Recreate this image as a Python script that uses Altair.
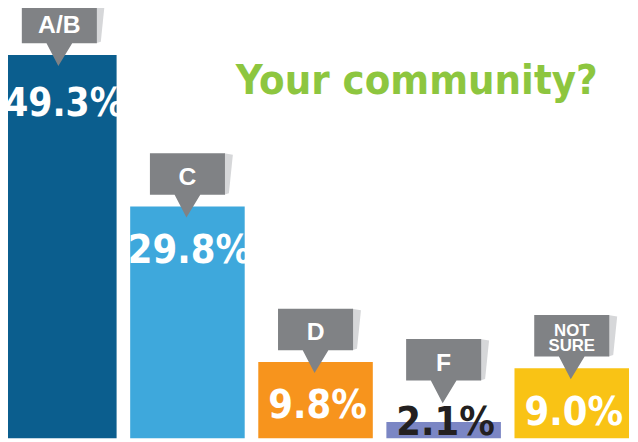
import altair as alt
import pandas as pd

categories = ["A/B", "C", "D", "F", "NOT SURE"]
values = [49.3, 29.8, 9.8, 2.1, 9.0]
labels = ["49.3%", "29.8%", "9.8%", "2.1%", "9.0%"]
colors = ["#0b5e8e", "#3ea8dc", "#f7941d", "#7b86c4", "#f9c315"]
title_text = ["Your community?"]

df = pd.DataFrame({"cat": categories, "value": values, "label": labels})

x = alt.X("cat:N", sort=categories,
          scale=alt.Scale(range=[-6, 629], paddingInner=0.106, paddingOuter=0),
          axis=None)
y = alt.Y("value:Q", scale=alt.Scale(domain=[0, 55]), axis=None)

base = alt.Chart(df).encode(x=x, y=y)

bars = base.mark_bar().encode(
    color=alt.Color("cat:N", scale=alt.Scale(domain=categories, range=colors), legend=None)
)

NUM_FONT = "DejaVu Sans Condensed, sans-serif"
LAB_FONT = "Liberation Sans, Arial, sans-serif"

big = base.transform_filter("datum.value >= 40").mark_text(
    font=NUM_FONT, fontWeight="bold", fontSize=39, color="white",
    baseline="alphabetic", dy=62, dx=5, align="center"
).encode(text="label:N")

mid = base.transform_filter("datum.value >= 5 && datum.value < 40").mark_text(
    font=NUM_FONT, fontWeight="bold", fontSize=40, color="white",
    baseline="alphabetic", dy=57, dx=2, align="center"
).encode(text="label:N")

small = alt.Chart(df).transform_filter("datum.value < 5").transform_calculate(
    zero="0"
).mark_text(
    font=NUM_FONT, fontWeight="bold", fontSize=40, color="#231f20",
    baseline="alphabetic", dy=-3, dx=2, align="center"
).encode(x=x, y=alt.Y("zero:Q", axis=None), text="label:N")

BOX = "M -0.76 -1.08 L 0.76 -1.08 L 0.76 -0.24 L 0.26 -0.24 L -0.02 0.22 L -0.26 -0.24 L -0.76 -0.24 Z"
SHADOW = "M 0.70 -1.08 L 0.88 -1.05 L 0.80 -0.27 L 0.70 -0.24 Z"

sh_in = base.transform_filter("datum.value >= 5").mark_point(
    shape=SHADOW, size=10000, filled=True, color="#d6d7d9", opacity=1,
    strokeWidth=0, xOffset=2
)
bx_in = base.transform_filter("datum.value >= 5").mark_point(
    shape=BOX, size=10000, filled=True, color="#808285", opacity=1, strokeWidth=0
)
sh_out = base.transform_filter("datum.value < 5").mark_point(
    shape=SHADOW, size=10000, filled=True, color="#d6d7d9", opacity=1,
    strokeWidth=0, xOffset=2, yOffset=-30
)
bx_out = base.transform_filter("datum.value < 5").mark_point(
    shape=BOX, size=10000, filled=True, color="#808285", opacity=1,
    strokeWidth=0, yOffset=-30
)

lab_in = base.transform_filter("datum.value >= 5 && indexof(datum.cat, ' ') < 0").mark_text(
    font=LAB_FONT, fontWeight="bold", fontSize=25, color="white",
    baseline="alphabetic", dy=-22, align="center"
).encode(text="cat:N")

lab_out = base.transform_filter("datum.value < 5").mark_text(
    font=LAB_FONT, fontWeight="bold", fontSize=25, color="white",
    baseline="alphabetic", dy=-52, align="center"
).encode(text="cat:N")

lab_two = base.transform_filter("indexof(datum.cat, ' ') >= 0").mark_text(
    font=LAB_FONT, fontWeight="bold", fontSize=17, color="white",
    baseline="alphabetic", dy=-33, align="center", lineBreak=" ", lineHeight=16
).encode(text="cat:N")

title = alt.Chart(pd.DataFrame({"t": title_text})).mark_text(
    font="DejaVu Sans Condensed, sans-serif",
    fontWeight="bold", fontSize=42,
    color="#8dc63f", align="center", baseline="alphabetic", x=414, y=84
).encode(text="t:N")

chart = alt.layer(
    bars, big, mid, small, sh_in, bx_in, sh_out, bx_out, lab_in, lab_out, lab_two, title
).properties(
    width=630, height=433, padding=0, autosize=alt.AutoSizeParams(type="none")
).configure(background="white").configure_view(stroke=None)

chart.save("out.html", embed_options={"renderer": "svg", "actions": False})
